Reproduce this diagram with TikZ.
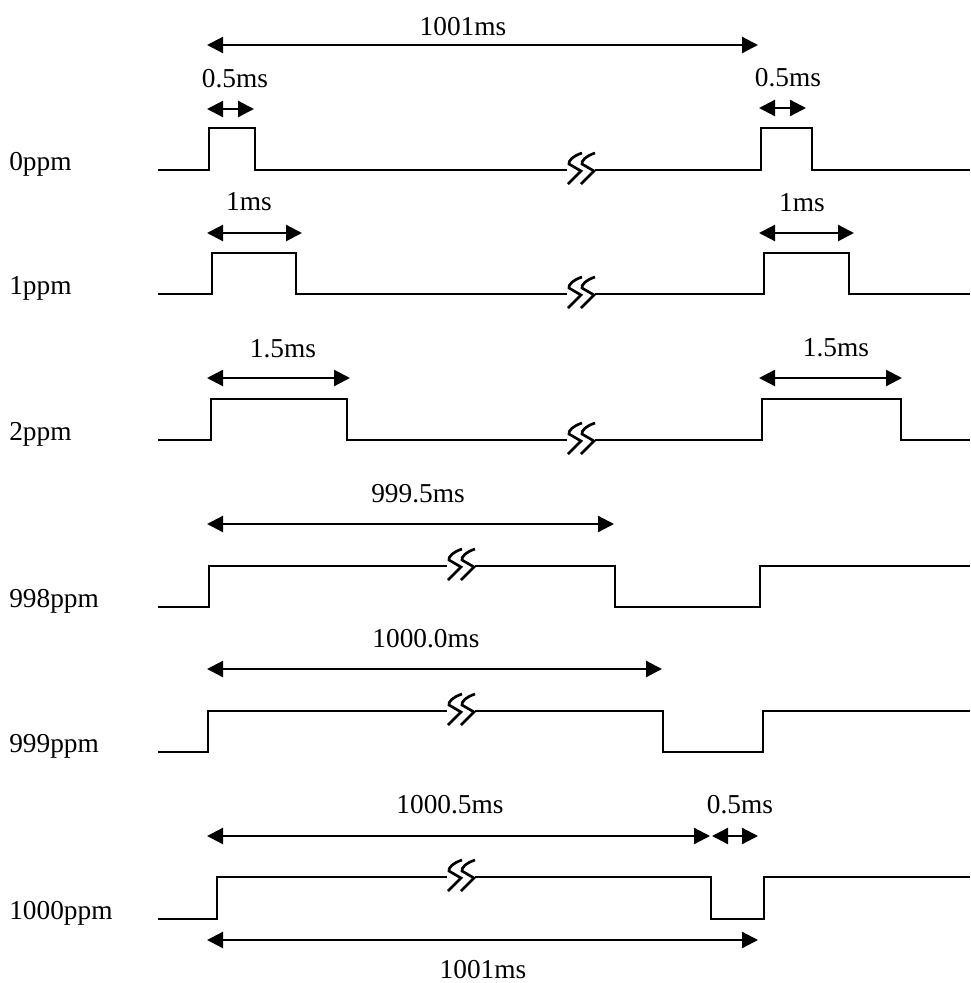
\documentclass[tikz,border=0pt]{standalone}
\usepackage{fontspec}
\setmainfont{Liberation Serif}
\usetikzlibrary{arrows.meta}

\begin{document}
\begin{tikzpicture}[x=0.75pt, y=-0.75pt, font=\fontsize{20.5}{24}\selectfont,
  wave/.style={line width=1.2pt, line join=miter},
  dimline/.style={line width=1.7pt, {Triangle[length=12pt,width=12pt]}-{Triangle[length=12pt,width=12pt]}},
  lbl/.style={anchor=base, inner sep=0pt},
  rowlbl/.style={anchor=base west, inner sep=0pt},
  brkmark/.pic={
    \fill[white] (-14,-3) rectangle (14,3);
    \draw[line width=2pt] (1,-17) .. controls (-8,-14) and (-13,-9) .. (-12,-6) -- (0,1) -- (-13,14);
    \draw[line width=2pt] (14,-17) .. controls (5,-14) and (0,-9) .. (1,-6) -- (13,1) -- (0,14);
  }]
  \useasboundingbox (0,0) rectangle (971,983);

  % 0ppm
  \node[rowlbl] (lab0) at (9,170) {0ppm};
  \draw[wave] (158,170) -- (209,170) -- (209,128) -- (255,128) -- (255,170) -- (761,170) -- (761,128) -- (812,128) -- (812,170) -- (970,170);
  \pic at (581,170) {brkmark};
  \coordinate (p0a) at (207,45);
  \coordinate (p0b) at (758,45);
  \draw[dimline] (p0a) -- (p0b);
  \node[lbl] (t0) at (463,35) {1001ms};
  \coordinate (w0a) at (207,109);
  \coordinate (w0b) at (254,109);
  \coordinate (w0c) at (759,108);
  \coordinate (w0d) at (806,108);
  \draw[dimline] (w0a) -- (w0b);
  \draw[dimline] (w0c) -- (w0d);
  \node[lbl] (w0l) at (235,87) {0.5ms};
  \node[lbl] (w0r) at (788,86) {0.5ms};

  % 1ppm
  \node[rowlbl] (lab1) at (9,294) {1ppm};
  \draw[wave] (158,294) -- (212,294) -- (212,253) -- (296,253) -- (296,294) -- (764,294) -- (764,253) -- (849,253) -- (849,294) -- (970,294);
  \pic at (581,294) {brkmark};
  \coordinate (w1a) at (207,233);
  \coordinate (w1b) at (302,233);
  \coordinate (w1c) at (759,233);
  \coordinate (w1d) at (854,233);
  \draw[dimline] (w1a) -- (w1b);
  \draw[dimline] (w1c) -- (w1d);
  \node[lbl] (w1l) at (249,210) {1ms};
  \node[lbl] (w1r) at (802,211) {1ms};

  % 2ppm
  \node[rowlbl] (lab2) at (9,440) {2ppm};
  \draw[wave] (158,440) -- (211,440) -- (211,399) -- (347,399) -- (347,440) -- (762,440) -- (762,399) -- (901,399) -- (901,440) -- (970,440);
  \pic at (581,440) {brkmark};
  \coordinate (w2a) at (207,378);
  \coordinate (w2b) at (350,378);
  \coordinate (w2c) at (759,378);
  \coordinate (w2d) at (902,378);
  \draw[dimline] (w2a) -- (w2b);
  \draw[dimline] (w2c) -- (w2d);
  \node[lbl] (w2l) at (283,357) {1.5ms};
  \node[lbl] (w2r) at (836,356) {1.5ms};

  % 998ppm
  \node[rowlbl] (lab3) at (9,607) {998ppm};
  \draw[wave] (158,607) -- (209,607) -- (209,566) -- (615,566) -- (615,607) -- (760,607) -- (760,566) -- (970,566);
  \pic at (461,566) {brkmark};
  \coordinate (w3a) at (207,524);
  \coordinate (w3b) at (614,524);
  \draw[dimline] (w3a) -- (w3b);
  \node[lbl] (w3l) at (418,502) {999.5ms};

  % 999ppm
  \node[rowlbl] (lab4) at (9,752) {999ppm};
  \draw[wave] (158,752) -- (208,752) -- (208,711) -- (663,711) -- (663,752) -- (763,752) -- (763,711) -- (970,711);
  \pic at (461,711) {brkmark};
  \coordinate (w4a) at (207,669);
  \coordinate (w4b) at (662,669);
  \draw[dimline] (w4a) -- (w4b);
  \node[lbl] (w4l) at (426,647) {1000.0ms};

  % 1000ppm
  \node[rowlbl] (lab5) at (9,919) {1000ppm};
  \draw[wave] (158,919) -- (217,919) -- (217,877) -- (711,877) -- (711,919) -- (764,919) -- (764,877) -- (970,877);
  \pic at (461,877) {brkmark};
  \coordinate (w5a) at (207,836);
  \coordinate (w5b) at (710,836);
  \coordinate (w5c) at (758,836);
  \draw[dimline] (w5a) -- (w5b);
  \draw[dimline] ([xshift=1.5pt]w5b) -- (w5c);
  \node[lbl] (w5l) at (450,813) {1000.5ms};
  \node[lbl] (w5r) at (740,813) {0.5ms};
  \coordinate (p5a) at (207,940);
  \coordinate (p5b) at (758,940);
  \draw[dimline] (p5a) -- (p5b);
  \node[lbl] (t5) at (483,978) {1001ms};

\end{tikzpicture}
\end{document}
